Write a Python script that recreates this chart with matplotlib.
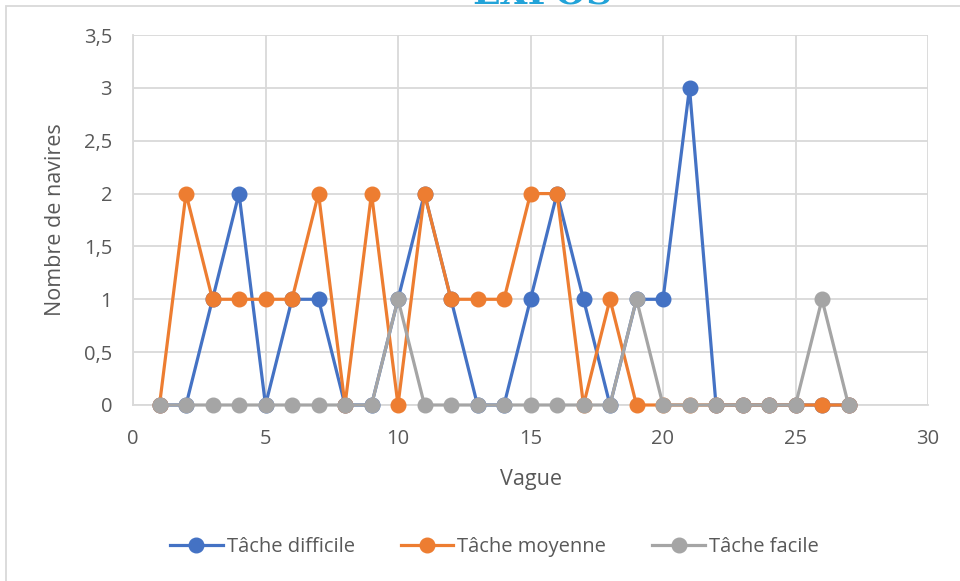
import matplotlib
matplotlib.use("Agg")
import matplotlib.pyplot as plt
from matplotlib.patches import Rectangle
from matplotlib.ticker import FuncFormatter

plt.rcParams['font.family'] = ['Open Sans', 'DejaVu Sans']

vagues = list(range(1, 28))
difficile = [0, 0, 1, 2, 0, 1, 1, 0, 0, 1, 2, 1, 0, 0, 1, 2, 1, 0, 1, 1, 3, 0, 0, 0, 0, 0, 0]
moyenne = [0, 2, 1, 1, 1, 1, 2, 0, 2, 0, 2, 1, 1, 1, 2, 2, 0, 1, 0, 0, 0, 0, 0, 0, 0, 0, 0]
facile = [0, 0, 0, 0, 0, 0, 0, 0, 0, 1, 0, 0, 0, 0, 0, 0, 0, 0, 1, 0, 0, 0, 0, 0, 0, 1, 0]

series = [
    ("Tâche difficile", difficile, "#4472C4"),
    ("Tâche moyenne", moyenne, "#ED7D31"),
    ("Tâche facile", facile, "#A5A5A5"),
]

txt = "#595959"
grid_c = "#D9D9D9"

fig = plt.figure(figsize=(9.6, 5.81), dpi=100)
ax = fig.add_axes([133 / 960, 176 / 581, 795 / 960, 370 / 581])

for label, vals, color in series:
    ax.plot(vagues, vals, color=color, lw=2.3, marker='o', markersize=10.5,
            label=label, clip_on=False, zorder=3)

ax.set_xlim(0, 30)
ax.set_ylim(0, 3.5)
ax.set_xticks(range(0, 31, 5))
ax.set_yticks([i * 0.5 for i in range(8)])
ax.yaxis.set_major_formatter(FuncFormatter(lambda v, p: f"{v:g}".replace(".", ",")))
ax.grid(True, color=grid_c, lw=1.3)
ax.set_axisbelow(True)
for s in ["top", "right"]:
    ax.spines[s].set_visible(False)
for s in ["left", "bottom"]:
    ax.spines[s].set_color(grid_c)
    ax.spines[s].set_linewidth(1.3)
ax.tick_params(length=0, labelsize=14.5, colors=txt)
ax.tick_params(axis='x', pad=17)
ax.tick_params(axis='y', pad=15)

ax.set_xlabel("Vague", fontsize=15.5, color=txt, labelpad=15)
ax.set_ylabel("Nombre de navires", fontsize=15.5, color=txt, labelpad=13)

leg = fig.legend(loc="center", bbox_to_anchor=(0.515, 34 / 581),
                 ncol=3, frameon=False, fontsize=14.5, handlelength=2.6,
                 columnspacing=2.3, handletextpad=0.2)
for t in leg.get_texts():
    t.set_color(txt)

# outer chart border
fig.patches.append(Rectangle((6 / 960, -0.1), 1.2, (581 - 6) / 581 + 0.1,
                             transform=fig.transFigure, fill=False,
                             edgecolor=grid_c, lw=1.3))

# cut-off title at top
fig.text(542 / 960, 1 - 4 / 581, "EXPOS", ha="center", va="baseline",
         fontsize=26, fontweight="bold", color="#22A3D8",
         family=["DejaVu Serif"])

fig.savefig("out.png", dpi=100)
